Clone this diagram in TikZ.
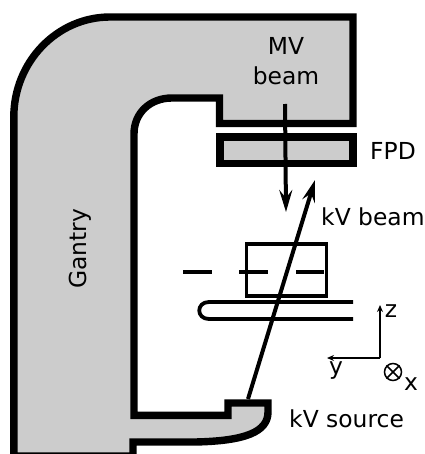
\documentclass[tikz,border=0pt]{standalone}
\usepackage{fontspec}
\setmainfont{DejaVu Sans}
\usetikzlibrary{arrows.meta,positioning}

\begin{document}
\begin{tikzpicture}[x=1pt,y=-1pt,
  part/.style={draw,line width=7.4pt,fill=black!20,miter limit=10},
  beam/.style={draw,line width=4pt,-{Stealth[length=22pt,width=13pt,inset=8pt]}},
  thinbar/.style={draw,line width=3.8pt},
  axis/.style={draw,line width=1.5pt,-{Stealth[length=7pt,width=6pt]}},
  label/.style={inner sep=0pt,font=\fontsize{23.4}{30}\selectfont}]

\useasboundingbox (0,0) rectangle (424,454);

% gantry
\draw[part] (13.8,456) -- (13.8,117) .. controls (13.8,62) and (57,17) .. (110,17)
  -- (353,17) -- (353,123.5) -- (219.5,123.5) -- (219.5,98) -- (172,98)
  .. controls (150,98) and (134,113) .. (134,134) -- (134,415.3) -- (228,415.3)
  -- (228,403) -- (268,403) -- (268,412) .. controls (268,432) and (245,441) .. (195,442)
  -- (133,442) -- (133,456) -- cycle;

% FPD
\node[part,outer sep=0pt,minimum width=133pt,minimum height=26.7pt,inner sep=0pt,anchor=north west] (fpd) at (220,137) {};

% couch
\coordinate (couchtop) at (353,302);
\coordinate (couchbot) at (353,319);
\draw[thinbar] (couchtop) -- (209,302) .. controls (196,302) and (196,319) .. (209,319) -- (couchbot);

% patient box
\node[thinbar,outer sep=0pt,minimum width=80pt,minimum height=52pt,inner sep=0pt,anchor=north west] (box) at (246.5,244) {};
\coordinate (dasha) at (183,272);
\coordinate (dashb) at (212,272);
\coordinate (dashc) at (239,272);
\coordinate (dashd) at (268,272);
\coordinate (dashe) at (296,272);
\coordinate (dashf) at (324,272);
\draw[thinbar] (dasha) -- (dashb) (dashc) -- (dashd) (dashe) -- (dashf);

% beams
\coordinate (mvstart) at (285,104);
\coordinate (mvend) at (286,212);
\coordinate (kvstart) at (248,399);
\coordinate (kvend) at (315,180);
\draw[beam] (mvstart) -- (mvend);
\draw[beam] (kvstart) -- (kvend);

% axes
\coordinate (origin) at (380,358);
\coordinate (zend) at (380,305);
\coordinate (yend) at (327,358);
\draw[axis] (origin) -- (zend);
\draw[axis] (origin) -- (yend);
\node[draw,circle,line width=1.5pt,minimum size=17pt,inner sep=0pt] (xsym) at (393,372) {};
\draw[line width=1.5pt] (xsym.north west) -- (xsym.south east);
\draw[line width=1.5pt] (xsym.north east) -- (xsym.south west);

% labels
\node[label,align=center] (mv) at (286,61) {MV\\beam};
\node[label,anchor=west] (fpdlabel) at (370,151) {FPD};
\node[label,anchor=west] (kvbeam) at (321,217) {kV beam};
\node[label,anchor=west] (kvsource) at (289,419) {kV source};
\node[label,rotate=90] (gantry) at (80,249) {Gantry};
\node[label] (zlabel) at (391,311) {z};
\node[label] (ylabel) at (336,371) {y};
\node[label] (xlabel) at (411,384) {x};

\end{tikzpicture}
\end{document}
